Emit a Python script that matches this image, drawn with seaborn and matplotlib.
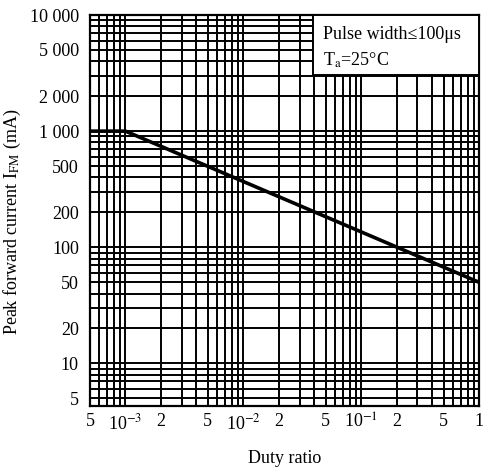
import numpy as np
import pandas as pd
import matplotlib
matplotlib.use('Agg')
import matplotlib.pyplot as plt
import seaborn as sns
from matplotlib.patches import Rectangle
from matplotlib.ticker import FixedLocator, FixedFormatter, LogLocator, NullFormatter

# Data
duty = [5e-4, 1e-3, 1.0]
current = [1000, 1000, 50]

x_ticks = [5e-4, 1e-3, 2e-3, 5e-3, 1e-2, 2e-2, 5e-2, 1e-1, 2e-1, 5e-1, 1]
x_labels = ['5', '10$^{-3}$', '2', '5', '10$^{-2}$', '2', '5', '10$^{-1}$', '2', '5', '1']
y_ticks = [5, 10, 20, 50, 100, 200, 500, 1000, 2000, 5000, 10000]
y_labels = ['5', '10', '20', '50', '100', '200', '500', '1 000', '2 000', '5 000', '10 000']

sns.set_theme(style='white')
plt.rcParams['font.family'] = ['Liberation Serif', 'DejaVu Serif']
plt.rcParams['mathtext.fontset'] = 'stix'
FS = 13

fig = plt.figure(figsize=(4.84, 4.68), dpi=100)
ax = fig.add_axes([90 / 484, 1 - 406 / 468, 389 / 484, 391 / 468])

df = pd.DataFrame({'duty': duty, 'current': current})
sns.lineplot(data=df, x='duty', y='current', ax=ax, color='black', lw=2.6, zorder=3)

ax.set_xscale('log')
ax.set_yscale('log')
ax.set_xlim(5e-4, 1)
ax.set_ylim(4.3, 10000)

ax.xaxis.set_major_locator(FixedLocator(x_ticks))
ax.xaxis.set_major_formatter(FixedFormatter(x_labels))
ax.yaxis.set_major_locator(FixedLocator(y_ticks))
ax.yaxis.set_major_formatter(FixedFormatter(y_labels))
for axis in (ax.xaxis, ax.yaxis):
    axis.set_minor_locator(LogLocator(base=10, subs=np.arange(1, 10), numticks=50))
    axis.set_minor_formatter(NullFormatter())

ax.grid(True, which='both', color='black', lw=1.4)
ax.tick_params(which='both', length=0, labelsize=FS, colors='black')
ax.tick_params(axis='y', pad=8)
ax.tick_params(axis='x', pad=5)
for s in ax.spines.values():
    s.set_color('black')
    s.set_linewidth(1.6)

ax.set_xlabel('Duty ratio', fontsize=FS, color='black', labelpad=12)
ax.set_ylabel('Peak forward current I$_{\\mathrm{FM}}$ (mA)', fontsize=FS, color='black')
ax.yaxis.set_label_coords(-0.172, 0.47)

# annotation box
ax.add_patch(Rectangle((0.573, 0.847), 0.427, 0.153, transform=ax.transAxes,
                       facecolor='white', edgecolor='black', lw=1.4, zorder=4))
ax.text(0.599, 0.951, 'Pulse width\u2264100\u03bcs', transform=ax.transAxes,
        fontsize=FS, va='center', ha='left', zorder=5, color='black')
ax.text(0.599, 0.885, 'T$_{\\mathrm{a}}$=25\u00b0C', transform=ax.transAxes,
        fontsize=FS, va='center', ha='left', zorder=5, color='black')

fig.savefig('out.png', dpi=100, facecolor='white')
